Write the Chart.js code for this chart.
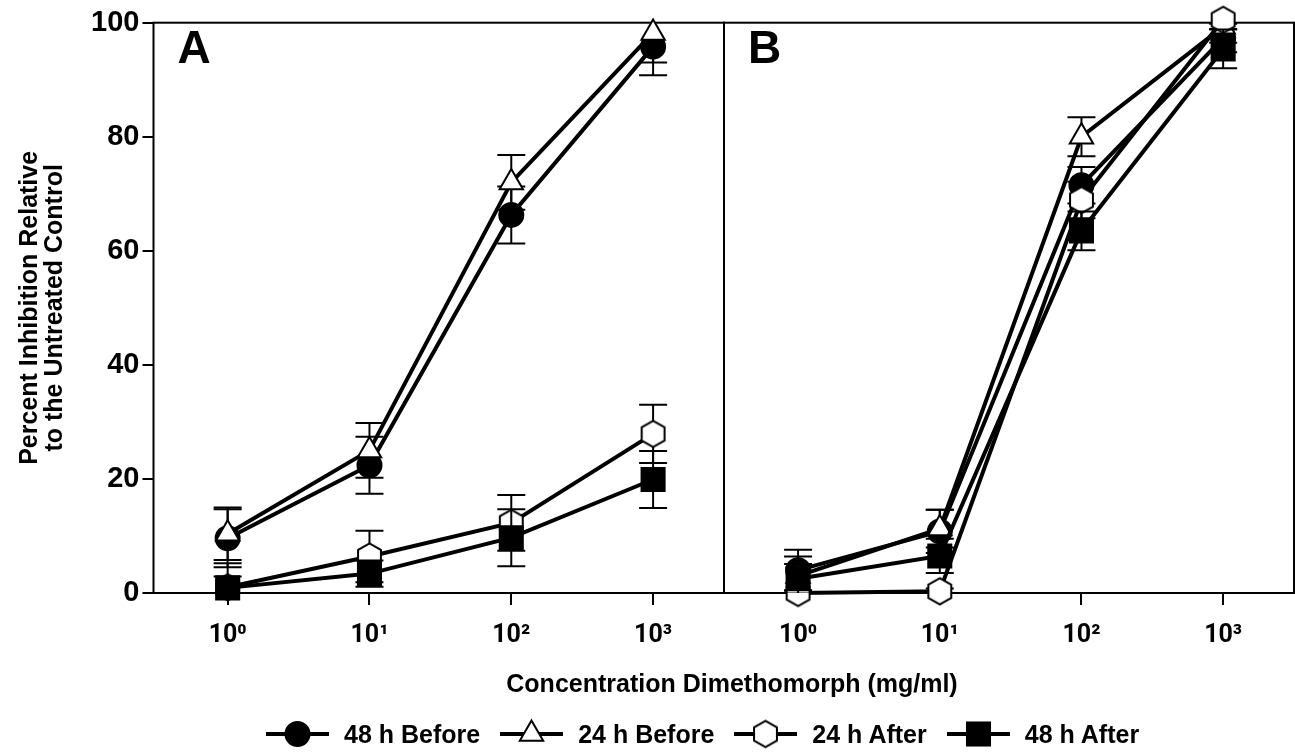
<!DOCTYPE html>
<html><head><meta charset="utf-8">
<script src="https://cdn.jsdelivr.net/npm/chart.js@4/dist/chart.umd.min.js"></script>
<style>
html,body{margin:0;padding:0;background:#fff;}
#wrap{position:relative;width:1295px;height:755px;overflow:hidden;font-family:"Liberation Sans",Arial,sans-serif;background:#fff;}
canvas.c{position:absolute;left:0;top:0;}
#xtitle{position:absolute;top:668px;left:432px;width:600px;text-align:center;font-weight:bold;font-size:25px;line-height:30px;color:#000;white-space:nowrap;}
#legend{position:absolute;top:719px;left:266px;height:30px;display:flex;align-items:center;white-space:nowrap;}
.li{display:flex;align-items:center;margin-right:20px;}
.li canvas{display:block;margin-right:15px;}
.li span{font-weight:bold;font-size:25px;color:#000;}
</style></head>
<body>
<div id="wrap">
<canvas id="cA" class="c" width="1295" height="755"></canvas>
<canvas id="cB" class="c" width="1295" height="755"></canvas>
<div id="xtitle"></div>
<div id="legend"></div>
</div>
<script>
const concentrations = [1, 10, 100, 1000];
const xTickLabels = ['10\u2070', '10\u00B9', '10\u00B2', '10\u00B3'];
const yTicks = [0, 20, 40, 60, 80, 100];
const seriesNames = ['48 h Before', '24 h Before', '24 h After', '48 h After'];
const panelLabels = ['A', 'B'];
const xAxisTitle = 'Concentration Dimethomorph (mg/ml)';
const yAxisTitle = ['Percent Inhibition Relative', 'to the Untreated Control'];

// Panel A
const a48Before = [9.6, 22.4, 66.3, 95.8];
const a48BeforeErr = [5.1, 5.0, 5.0, 5.0];
const a24Before = [10.4, 25.0, 72.0, 98.2];
const a24BeforeErr = [4.6, 4.8, 4.8, 5.2];
const a24After = [1.0, 6.4, 12.3, 27.9];
const a24AfterErr = [4.2, 4.5, 4.9, 5.1];
const a48After = [0.9, 3.4, 9.7, 19.9];
const a48AfterErr = [2.0, 2.3, 5.0, 5.0];

// Panel B
const b48Before = [4.0, 10.8, 71.5, 97.3];
const b48BeforeErr = [3.6, 3.8, 3.2, 2.5];
const b24Before = [3.0, 11.3, 80.0, 99.3];
const b24BeforeErr = [3.4, 3.3, 3.4, 2.8];
const b24After = [0.0, 0.3, 68.9, 100.5];
const b24AfterErr = [0.5, 0.5, 3.2, 1.6];
const b48After = [2.5, 6.5, 63.5, 95.4];
const b48AfterErr = [2.6, 3.0, 3.4, 3.4];

function makeHexagon(R, lw) {
  const w = Math.ceil(Math.sqrt(3) * R + lw * 2), h = Math.ceil(2 * R + lw * 2);
  const c = document.createElement('canvas'); c.width = w; c.height = h;
  const g = c.getContext('2d');
  g.beginPath();
  for (let i = 0; i < 6; i++) {
    const a = -Math.PI / 2 + i * Math.PI / 3;
    const x = w / 2 + R * Math.cos(a), y = h / 2 + R * Math.sin(a);
    if (i) g.lineTo(x, y); else g.moveTo(x, y);
  }
  g.closePath(); g.fillStyle = '#fff'; g.fill();
  g.lineWidth = lw; g.strokeStyle = '#000'; g.stroke();
  return c;
}
const hexImg = makeHexagon(13.2, 2);

const styles = [
  {pointStyle: 'circle', pointRadius: 12, pointBackgroundColor: '#000', order: 3},
  {pointStyle: 'triangle', pointRadius: 13.5, pointBackgroundColor: '#fff', order: 2},
  {pointStyle: hexImg, pointRadius: 13, pointBackgroundColor: '#fff', order: 1},
  {pointStyle: 'rect', pointRadius: 16.3, pointBackgroundColor: '#000', order: 0}
];

function buildDatasets(values, errors) {
  return values.map((vals, s) => Object.assign({
    label: seriesNames[s],
    data: vals.map((v, i) => ({x: concentrations[i], y: v})),
    errors: errors[s],
    borderColor: '#000',
    borderWidth: 4,
    pointBorderColor: '#000',
    pointBorderWidth: 2,
    pointHoverRadius: 0,
    tension: 0,
    clip: false,
    fill: false
  }, styles[s]));
}

const errorBars = {
  id: 'errorBars',
  beforeDatasetDraw(chart, args) {
    const ds = chart.data.datasets[args.index];
    const xs = chart.scales.x, ys = chart.scales.y, a = chart.chartArea, ctx = chart.ctx;
    ctx.save();
    ctx.beginPath(); ctx.rect(a.left, a.top, a.right - a.left, a.bottom - a.top); ctx.clip();
    ctx.strokeStyle = '#000'; ctx.lineWidth = 2;
    ds.data.forEach((p, i) => {
      const e = ds.errors[i];
      const x = xs.getPixelForValue(p.x);
      const yt = ys.getPixelForValue(p.y + e), yb = ys.getPixelForValue(p.y - e);
      ctx.beginPath();
      ctx.moveTo(x, yt); ctx.lineTo(x, yb);
      ctx.moveTo(x - 14, yt); ctx.lineTo(x + 14, yt);
      ctx.moveTo(x - 14, yb); ctx.lineTo(x + 14, yb);
      ctx.stroke();
    });
    ctx.restore();
  }
};

const frame = {
  id: 'frame',
  beforeDatasetsDraw(chart, args, opts) {
    const a = chart.chartArea, ctx = chart.ctx;
    ctx.save();
    ctx.strokeStyle = '#000'; ctx.lineWidth = 2;
    ctx.strokeRect(a.left, a.top, a.right - a.left, a.bottom - a.top);
    ctx.fillStyle = '#000';
    ctx.font = 'bold 46px "Liberation Sans", Arial, sans-serif';
    ctx.textBaseline = 'alphabetic';
    ctx.fillText(opts.label, a.left + 24, a.top + 40);
    ctx.restore();
  }
};

const xTickFont = {family: 'Roboto, "Liberation Sans", Arial, sans-serif', size: 25, weight: 'bold'};
const yTickFont = {family: '"Liberation Sans", Arial, sans-serif', size: 29, weight: 'bold'};

function makeChart(id, datasets, label, showY, padLeft, padRight) {
  return new Chart(document.getElementById(id), {
    type: 'line',
    data: {datasets},
    plugins: [frame, errorBars],
    options: {
      responsive: false,
      animation: false,
      devicePixelRatio: 1,
      events: [],
      layout: {autoPadding: false, padding: {left: padLeft, right: padRight, top: 22.7, bottom: 0}},
      plugins: {legend: {display: false}, tooltip: {enabled: false}, frame: {label}},
      scales: {
        x: {
          type: 'logarithmic',
          min: Math.pow(10, -0.5), max: Math.pow(10, 3.5),
          afterBuildTicks: s => { s.ticks = concentrations.map(v => ({value: v})); },
          afterFit: s => { s.height = 162; s.paddingLeft = 0; s.paddingRight = 0; },
          ticks: {
            callback: v => xTickLabels[concentrations.indexOf(v)],
            font: xTickFont, color: '#000', maxRotation: 0, autoSkip: false, padding: 16
          },
          grid: {display: true, drawOnChartArea: false, drawTicks: true, tickLength: 12, color: '#000', lineWidth: 2},
          border: {display: false}
        },
        y: {
          display: showY,
          min: 0, max: 100,
          afterBuildTicks: s => { s.ticks = yTicks.map(v => ({value: v})); },
          afterFit: s => { s.width = showY ? 153.5 : 0; },
          ticks: {font: yTickFont, color: '#000', padding: 3},
          grid: {display: true, drawOnChartArea: false, drawTicks: true, tickLength: 11, color: '#000', lineWidth: 2},
          border: {display: false},
          title: {
            display: true, text: yAxisTitle, color: '#000',
            font: {family: '"Liberation Sans", Arial, sans-serif', size: 25, weight: 'bold', lineHeight: 1.0},
            padding: {top: 18, bottom: 0}
          }
        }
      }
    }
  });
}

makeChart('cA', buildDatasets([a48Before, a24Before, a24After, a48After], [a48BeforeErr, a24BeforeErr, a24AfterErr, a48AfterErr]), panelLabels[0], true, 0, 1295 - 724);
makeChart('cB', buildDatasets([b48Before, b24Before, b24After, b48After], [b48BeforeErr, b24BeforeErr, b24AfterErr, b48AfterErr]), panelLabels[1], false, 724, 1);

document.getElementById('xtitle').textContent = xAxisTitle;

// legend
function legendIcon(s) {
  const c = document.createElement('canvas'); c.width = 63; c.height = 32;
  const g = c.getContext('2d');
  g.strokeStyle = '#000'; g.lineWidth = 4;
  g.beginPath(); g.moveTo(0, 16); g.lineTo(63, 16); g.stroke();
  g.lineWidth = 2; g.fillStyle = styles[s].pointBackgroundColor;
  const cx = 31.5, cy = 16;
  if (s === 0) { g.beginPath(); g.arc(cx, cy, 12, 0, Math.PI * 2); g.fill(); g.stroke(); }
  else if (s === 1) { const r = 13.5; g.beginPath(); g.moveTo(cx, cy - r); g.lineTo(cx + r * Math.sqrt(3) / 2, cy + r / 2); g.lineTo(cx - r * Math.sqrt(3) / 2, cy + r / 2); g.closePath(); g.fill(); g.stroke(); }
  else if (s === 2) { g.drawImage(hexImg, cx - hexImg.width / 2, cy - hexImg.height / 2); }
  else { const h = 16.3 * Math.SQRT1_2; g.fillRect(cx - h, cy - h, 2 * h, 2 * h); g.strokeRect(cx - h, cy - h, 2 * h, 2 * h); }
  return c;
}
const leg = document.getElementById('legend');
seriesNames.forEach((n, s) => {
  const d = document.createElement('div'); d.className = 'li';
  d.appendChild(legendIcon(s));
  const sp = document.createElement('span'); sp.textContent = n; d.appendChild(sp);
  leg.appendChild(d);
});
</script>
</body></html>
